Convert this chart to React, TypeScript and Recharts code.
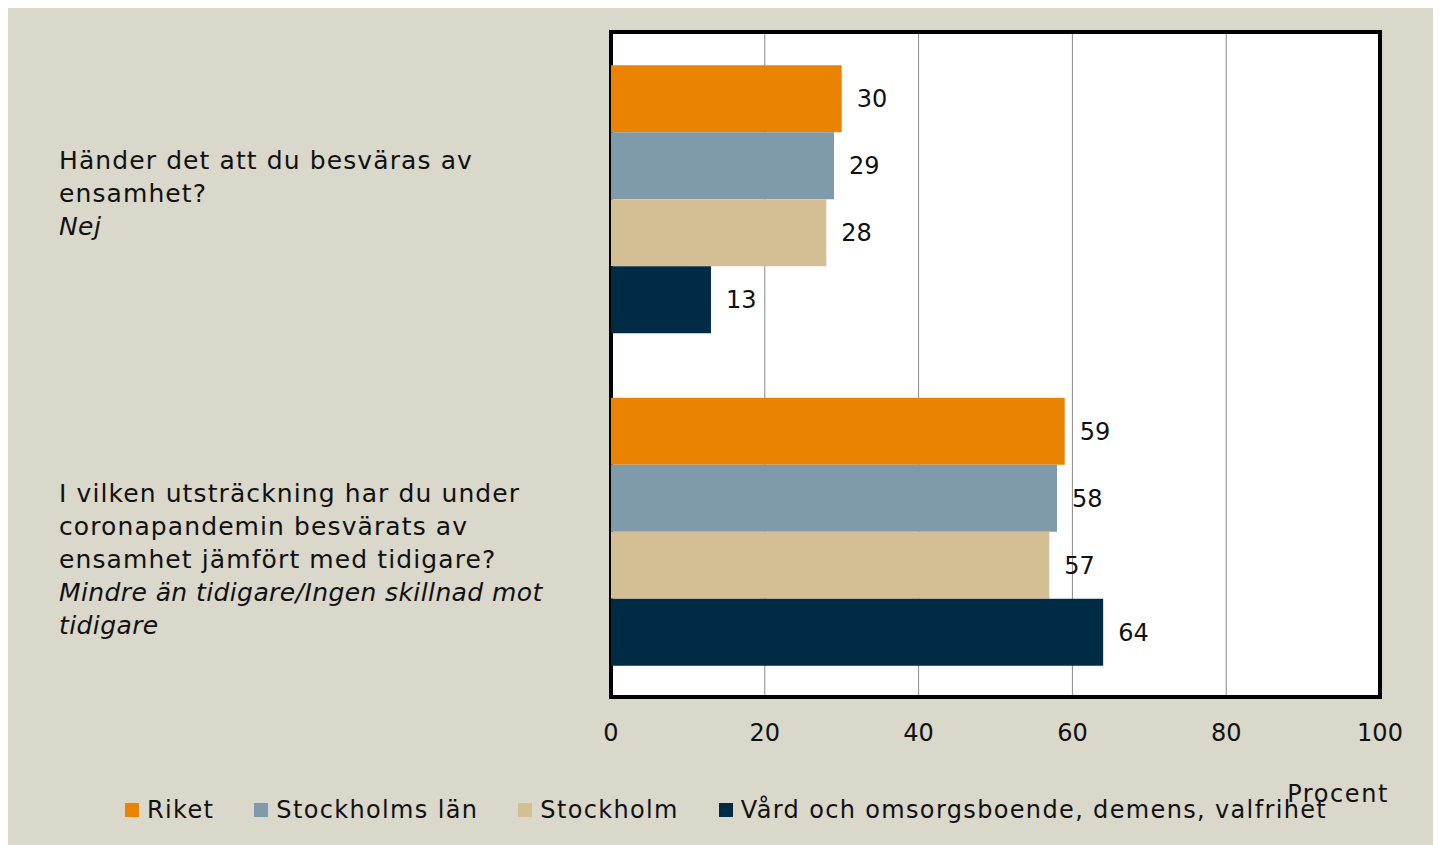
import { Bar, BarChart, CartesianGrid, LabelList, Label, ReferenceArea, XAxis, YAxis } from "recharts";

const categories = ["q1", "q2"];

const categoryLines = [
  ["Händer det att du besväras av", "ensamhet?"],
  ["I vilken utsträckning har du under", "coronapandemin besvärats av", "ensamhet jämfört med tidigare?"]
];

const categoryAnswers = [["Nej"], ["Mindre än tidigare/Ingen skillnad mot", "tidigare"]];

const seriesNames = ["Riket", "Stockholms län", "Stockholm", "Vård och omsorgsboende, demens, valfrihet"];
const seriesColors = ["#E98300", "#7E9AAB", "#D4BF94", "#002B45"];

const riket = [30, 59];
const stockholmsLan = [29, 58];
const stockholm = [28, 57];
const vard = [13, 64];

const xTicks = [0, 20, 40, 60, 80, 100];

const FONT = "'DejaVu Sans', sans-serif";

const data = categories.map((c, i) => ({
  name: c,
  s0: riket[i],
  s1: stockholmsLan[i],
  s2: stockholm[i],
  s3: vard[i]
}));

function CategoryTick(props: any) {
  const { y, payload } = props;
  const idx = categories.indexOf(payload.value);
  const lines = categoryLines[idx] || [];
  const answers = categoryAnswers[idx] || [];
  const startY = y - 29;
  return (
    <text x={51} y={startY} fill="#111" fontSize={25} fontFamily={FONT} textAnchor="start">
      {lines.map((l, i) => (
        <tspan key={"l" + i} x={51} y={startY + i * 33} letterSpacing={1.1}>
          {l}
        </tspan>
      ))}
      {answers.map((a, i) => (
        <tspan key={"a" + i} x={51} y={startY + (lines.length + i) * 33} fontStyle="italic" letterSpacing={0.4}>
          {a}
        </tspan>
      ))}
    </text>
  );
}

export default function App() {
  return (
    <div style={{ position: "relative", width: 1433, height: 837, background: "#DAD7CB", fontFamily: FONT }}>
      <BarChart
        width={1433}
        height={837}
        data={data}
        layout="vertical"
        margin={{ top: 24, right: 61, left: 0, bottom: 43 }}
        barCategoryGap="10%"
        barGap={0}
      >
        <CartesianGrid horizontal={false} stroke="#8a8a8a" fill="#ffffff" />
        <XAxis
          type="number"
          domain={[0, 100]}
          ticks={xTicks}
          height={105}
          axisLine={false}
          tickLine={false}
          tickSize={0}
          tickMargin={27}
          tick={{ fill: "#111", fontSize: 24, fontFamily: FONT }}
        >
          <Label
            value="Procent"
            position="insideBottomRight"
            offset={0}
            dx={9}
            fill="#111"
            fontSize={24}
            fontFamily={FONT}
            letterSpacing={1.6}
          />
        </XAxis>
        <YAxis
          type="category"
          dataKey="name"
          width={603}
          axisLine={false}
          tickLine={false}
          tick={<CategoryTick />}
        />
        {["s0", "s1", "s2", "s3"].map((k, i) => (
          <Bar key={k} dataKey={k} fill={seriesColors[i]} isAnimationActive={false}>
            <LabelList dataKey={k} position="right" offset={15} fill="#111" fontSize={24} fontFamily={FONT} />
          </Bar>
        ))}
        <ReferenceArea x1={0} x2={100} fill="none" fillOpacity={0} stroke="#000" strokeWidth={4} ifOverflow="visible" />
      </BarChart>
      <div
        style={{
          position: "absolute",
          left: 117,
          top: 788,
          display: "flex",
          alignItems: "center",
          fontSize: 24,
          color: "#111",
          whiteSpace: "nowrap"
        }}
      >
        {seriesNames.map((n, i) => (
          <div key={n} style={{ display: "flex", alignItems: "center", marginRight: 40 }}>
            <span style={{ width: 14, height: 14, background: seriesColors[i], display: "inline-block", marginRight: 8 }} />
            <span style={{ letterSpacing: 1.35 }}>{n}</span>
          </div>
        ))}
      </div>
    </div>
  );
}
